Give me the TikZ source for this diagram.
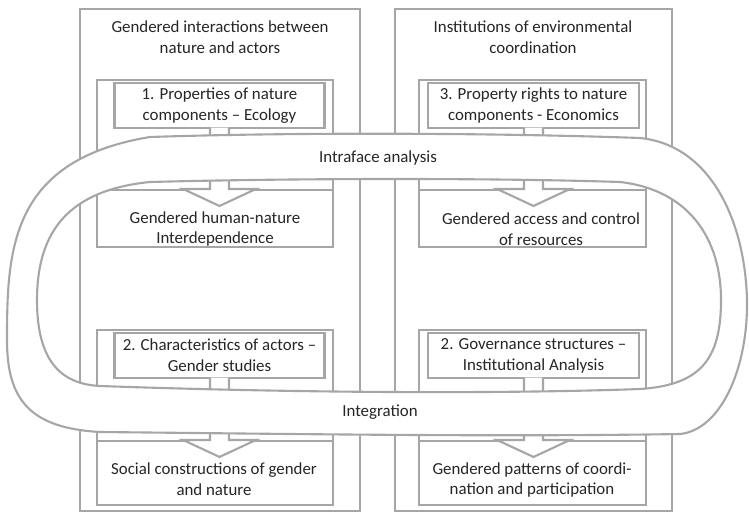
\documentclass[tikz,border=0pt]{standalone}
\usepackage{fontspec}
\setmainfont{Carlito}
\usetikzlibrary{calc,positioning}

\definecolor{linegray}{HTML}{A6A6A6}
\definecolor{textgray}{HTML}{262626}

% block arrow from the bottom of box #1 into box #2
\newcommand{\flowarrow}[2]{%
  \draw[blockarrow] ($(#1.south)+(-9.5,-1.5)$) -- ($(#1.south |- #2.north)+(-9.5,0)$)
    -- ++(-27,0) -- ($(#1.south |- #2.north)+(0,17)$)
    -- ($(#1.south |- #2.north)+(36.5,0)$) -- ($(#1.south |- #2.north)+(9.5,0)$)
    -- ($(#1.south)+(9.5,-1.5)$);}

\begin{document}
\begin{tikzpicture}[x=0.02cm, y=-0.02cm,
    line width=1.2pt,
    font=\fontsize{9.6pt}{11.9pt}\selectfont,
    box/.style={draw=linegray, fill=white, inner sep=0pt, align=center, text=textgray},
    txt/.style={align=center, text=textgray},
    blockarrow/.style={draw=linegray, fill=white, line join=miter},
    band/.style={draw=linegray, fill=white, even odd rule}]
    \useasboundingbox (0,0) rectangle (749,514);

    % Outer columns
    \draw[linegray] (80,9) rectangle (360,511);
    \draw[linegray] (395,9) rectangle (672,511);
    \node[txt] (natt) at (220,37) {Gendered interactions between\\nature and actors};
    \node[txt] (inst) at (533,37) {Institutions of environmental\\coordination};

    % Frames
    \draw[linegray] (97,80) rectangle (333,247);
    \draw[linegray] (419,80) rectangle (646,247);
    \draw[linegray] (97,330) rectangle (333,505);
    \draw[linegray] (419,330) rectangle (646,505);

    % Result boxes
    \node[box, minimum width=4.72cm, minimum height=1.14cm] (hnat) at (215,218.5) {};
    \node[box, minimum width=4.54cm, minimum height=1.14cm] (acc) at (532.5,218.5) {};
    \node[box, minimum width=4.72cm, minimum height=1.28cm] (soc) at (215,473) {};
    \node[box, minimum width=4.54cm, minimum height=1.28cm] (coord) at (532.5,473) {};
    \node[txt] at (215,229) {Gendered human-nature\\Interdependence};
    \node[txt] at (541,229) {Gendered access and control\\of resources};
    \node[txt] at (214,479) {Social constructions of gender\\and nature};
    \node[txt] at (532,480) {Gendered patterns of coordi-\\nation and participation};

    % Discipline boxes
    \node[box, minimum width=4.2cm, minimum height=0.9cm] (ecol) at (219.5,105.5)
        {1. Properties of nature\\components -- Ecology};
    \node[box, minimum width=4.22cm, minimum height=0.9cm] (econ) at (533.5,105.5)
        {3. Property rights to nature\\components - Economics};
    \node[box, minimum width=4.2cm, minimum height=0.9cm] (gend) at (219.5,355.5)
        {2. Characteristics of actors --\\Gender studies};
    \node[box, minimum width=4.22cm, minimum height=0.9cm] (gov) at (533.5,355.5)
        {2. Governance structures --\\Institutional Analysis};

    % Arrows
    \flowarrow{ecol}{hnat}
    \flowarrow{econ}{acc}
    \flowarrow{gend}{soc}
    \flowarrow{gov}{coord}

    % Loop band
    \path[band] (150,137) .. controls (300,132) and (500,133) .. (640,138)
        .. controls (710,145) and (745,220) .. (747,300)
        .. controls (748,370) and (720,430) .. (680,434)
        .. controls (500,437) and (300,434) .. (100,432)
        .. controls (30,428) and (7,400) .. (7,340)
        .. controls (7,250) and (10,160) .. (150,137) -- cycle
        (150,182) .. controls (300,178) and (500,178) .. (620,182)
        .. controls (690,190) and (721,240) .. (721,300)
        .. controls (721,360) and (700,385) .. (640,389)
        .. controls (500,394) and (300,393) .. (100,386)
        .. controls (60,384) and (37,360) .. (37,300)
        .. controls (37,230) and (70,190) .. (150,182) -- cycle;
    \node[txt] (intra) at (378,158) {Intraface analysis};
    \node[txt] (integ) at (380,412) {Integration};
\end{tikzpicture}
\end{document}
